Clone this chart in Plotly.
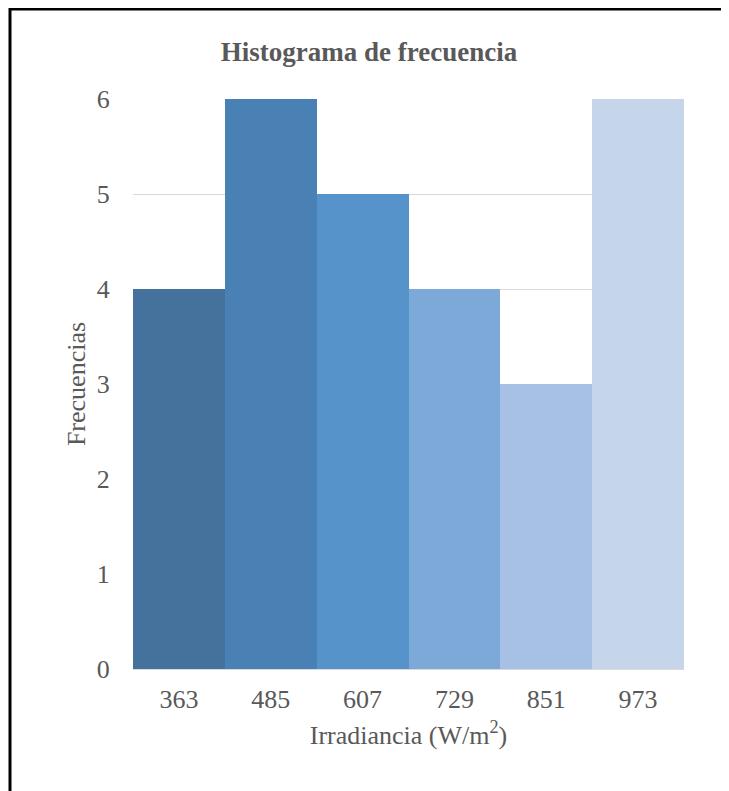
"""
histograma de frecuencia de irradiancia
"""

import plotly.graph_objects as go

# datos del histograma
clases = ["363", "485", "607", "729", "851", "973"]
frecuencias = [4, 6, 5, 4, 3, 6]
colores = ["#44729D", "#4A81B4", "#5793CB", "#7DA9D9", "#A7C1E4", "#C5D5EA"]
ticks_y = [0, 1, 2, 3, 4, 5, 6]

# la pagina tiene un margen de 8px, la figura se reduce para caber
W, H = 721, 783
L, R, T, B = 125, 45, 91, 122
pw, ph = W - L - R, H - T - B

fuente = "Liberation Serif, Times New Roman, serif"
gris = "#595959"

fig = go.Figure()
fig.add_trace(go.Bar(
    x=clases,
    y=frecuencias,
    marker=dict(color=colores, line=dict(width=0)),
    hoverinfo="x+y",
))

fig.update_layout(
    width=W,
    height=H,
    margin=dict(l=L, r=R, t=T, b=B),
    paper_bgcolor="white",
    plot_bgcolor="white",
    bargap=0,
    showlegend=False,
    font=dict(family=fuente, color=gris, size=26),
    title=dict(
        text="<b>Histograma de frecuencia</b>",
        x=361 / W,
        xanchor="center",
        y=1 - 44 / H,
        yanchor="middle",
        font=dict(family=fuente, size=27, color=gris),
    ),
    xaxis=dict(
        type="category",
        showgrid=False,
        showline=True,
        linecolor="#d9d9d9",
        linewidth=1,
        ticks="outside",
        ticklen=7,
        tickcolor="rgba(0,0,0,0)",
        tickfont=dict(size=26, color=gris),
        title=dict(text="Irradiancia (W/m<sup>2</sup>)", font=dict(size=26, color=gris), standoff=12),
    ),
    yaxis=dict(
        range=[0, 6],
        tickvals=ticks_y,
        showgrid=True,
        gridcolor="#d9d9d9",
        gridwidth=1,
        zeroline=False,
        ticks="outside",
        ticklen=17,
        tickcolor="rgba(0,0,0,0)",
        tickfont=dict(size=26, color=gris),
        title=dict(text="Frecuencias", font=dict(size=26, color=gris), standoff=3),
    ),
    shapes=[
        # marco negro alrededor del grafico
        dict(
            type="rect",
            xref="paper",
            yref="paper",
            x0=(2 - L) / pw,
            x1=(W + 20 - L) / pw,
            y0=(H - B - (H + 20)) / ph,
            y1=(H - B - 1) / ph,
            line=dict(color="black", width=3),
            fillcolor="rgba(0,0,0,0)",
            layer="above",
        )
    ],
)

fig.write_html("out.html")
